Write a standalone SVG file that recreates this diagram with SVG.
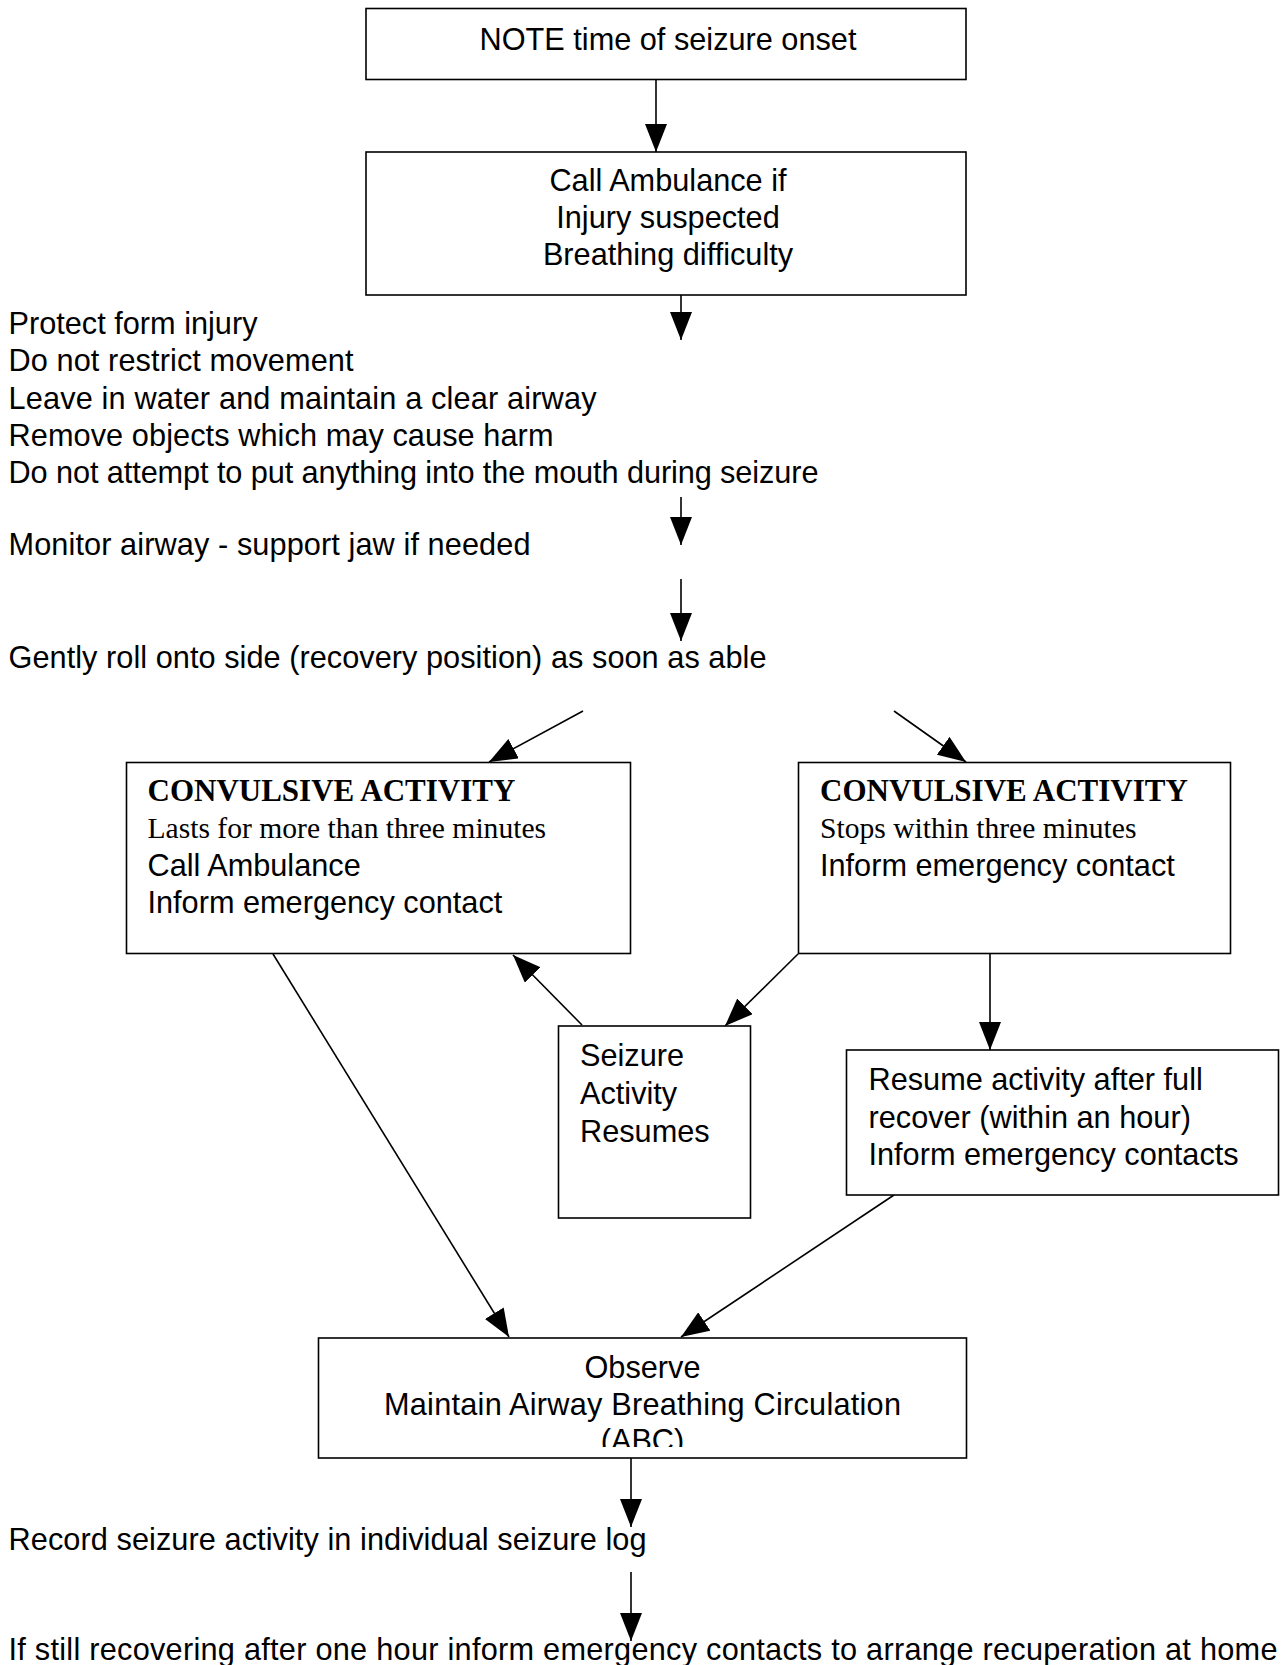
<svg xmlns="http://www.w3.org/2000/svg" width="1284" height="1665" viewBox="0 0 1284 1665">
<defs>
<style>
.box{fill:#fff;stroke:#000;stroke-width:1.6}
.t{font-family:"Liberation Sans",Arial,sans-serif;font-size:30.7px;fill:#000}
.c{text-anchor:middle}
.s{font-family:"Liberation Serif","Times New Roman",serif;font-size:29.6px;fill:#000}
.b{font-weight:bold;font-size:31px}
.ln{stroke:#000;stroke-width:1.6;fill:none;marker-end:url(#ah)}
</style>
<marker id="ah" viewBox="0 0 28 22" refX="28" refY="11" markerWidth="28" markerHeight="22" markerUnits="userSpaceOnUse" orient="auto">
<path d="M0,0 L28,11 L0,22 z" fill="#000"/>
</marker>
<clipPath id="obsclip"><rect x="319" y="1338" width="647" height="109"/></clipPath>
</defs>
<rect width="1284" height="1665" fill="#fff"/>

<g id="connectors">
<line class="ln" x1="656" y1="80" x2="656" y2="152"/>
<line class="ln" x1="681" y1="295" x2="681" y2="340"/>
<line class="ln" x1="681" y1="497" x2="681" y2="545"/>
<line class="ln" x1="681" y1="579" x2="681" y2="641"/>
<line class="ln" x1="583" y1="711" x2="489" y2="762"/>
<line class="ln" x1="894" y1="711" x2="966" y2="762"/>
<line class="ln" x1="273" y1="954" x2="509" y2="1337"/>
<line class="ln" x1="582" y1="1025" x2="513" y2="955"/>
<line class="ln" x1="798" y1="954" x2="725" y2="1026"/>
<line class="ln" x1="990" y1="954" x2="990" y2="1050"/>
<line class="ln" x1="894" y1="1195" x2="681" y2="1337"/>
<line class="ln" x1="631" y1="1458" x2="631" y2="1527"/>
<line class="ln" x1="631" y1="1572" x2="631" y2="1641"/>
</g>

<g id="n1">
<rect class="box" x="366" y="8.5" width="600" height="71"/>
<text class="t c" x="668" y="50">NOTE time of seizure onset</text>
</g>

<g id="n2">
<rect class="box" x="366" y="152" width="600" height="143"/>
<text class="t c" x="668" y="191">Call Ambulance if</text>
<text class="t c" x="668" y="228">Injury suspected</text>
<text class="t c" x="668" y="265">Breathing difficulty</text>
</g>

<g id="n3">
<text class="t" x="8.5" y="334">Protect form injury</text>
<text class="t" x="8.5" y="371" textLength="345">Do not restrict movement</text>
<text class="t" x="8.5" y="409" textLength="588">Leave in water and maintain a clear airway</text>
<text class="t" x="8.5" y="446" textLength="545">Remove objects which may cause harm</text>
<text class="t" x="8.5" y="483" textLength="810">Do not attempt to put anything into the mouth during seizure</text>
</g>

<g id="n4">
<text class="t" x="8.5" y="555" textLength="522">Monitor airway - support jaw if needed</text>
</g>

<g id="n5">
<text class="t" x="8.5" y="668" textLength="758">Gently roll onto side (recovery position) as soon as able</text>
</g>

<g id="n6">
<rect class="box" x="126.5" y="762.5" width="504" height="191"/>
<text class="s b" x="147.5" y="801">CONVULSIVE ACTIVITY</text>
<text class="s" x="147.5" y="838">Lasts for more than three minutes</text>
<text class="t" x="147.5" y="876">Call Ambulance</text>
<text class="t" x="147.5" y="913">Inform emergency contact</text>
</g>

<g id="n7">
<rect class="box" x="798.5" y="762.5" width="432" height="191"/>
<text class="s b" x="820" y="801">CONVULSIVE ACTIVITY</text>
<text class="s" x="820" y="838">Stops within three minutes</text>
<text class="t" x="820" y="876">Inform emergency contact</text>
</g>

<g id="n8">
<rect class="box" x="558.5" y="1026" width="192" height="192"/>
<text class="t" x="580" y="1066">Seizure</text>
<text class="t" x="580" y="1104">Activity</text>
<text class="t" x="580" y="1142">Resumes</text>
</g>

<g id="n9">
<rect class="box" x="846.5" y="1050" width="432" height="145"/>
<text class="t" x="868.5" y="1090">Resume activity after full</text>
<text class="t" x="868.5" y="1128">recover (within an hour)</text>
<text class="t" x="868.5" y="1165">Inform emergency contacts</text>
</g>

<g id="n10">
<rect class="box" x="318.5" y="1338" width="648" height="120"/>
<g clip-path="url(#obsclip)">
<text class="t c" x="642.5" y="1378">Observe</text>
<text class="t c" x="642.5" y="1415" textLength="517">Maintain Airway Breathing Circulation</text>
<text class="t c" x="642.5" y="1451">(ABC)</text>
</g>
</g>

<g id="n11">
<text class="t" x="8.5" y="1550" textLength="638">Record seizure activity in individual seizure log</text>
</g>

<g id="n12">
<text class="t" x="8.5" y="1660" textLength="1269">If still recovering after one hour inform emergency contacts to arrange recuperation at home</text>
</g>
</svg>
